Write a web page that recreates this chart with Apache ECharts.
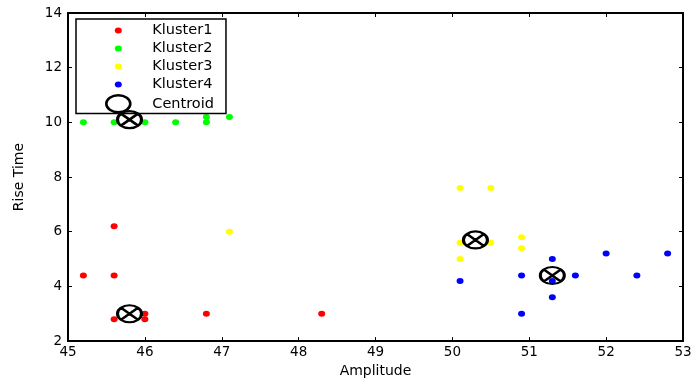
<!DOCTYPE html>
<html>
<head>
<meta charset="utf-8">
<script src="https://cdn.jsdelivr.net/npm/echarts@6/dist/echarts.min.js"></script>
<style>
  html, body { margin: 0; padding: 0; background: #fff; }
  #chart { width: 697px; height: 383px; }
</style>
</head>
<body>
<div id="chart"></div>
<script>
// values: [amplitude, rise time]
const kluster1 = [[45.2, 4.4], [45.6, 4.4], [45.6, 6.2], [45.6, 2.8], [46.0, 3.0], [46.0, 2.8], [46.8, 3.0], [48.3, 3.0]];
const kluster2 = [[45.2, 10], [45.6, 10], [46.0, 10], [46.4, 10], [46.8, 10], [46.8, 10.2], [47.1, 10.2]];
const kluster3 = [[47.1, 6.0], [50.1, 7.6], [50.5, 7.6], [50.1, 5.6], [50.5, 5.6], [50.1, 5.0], [50.9, 5.8], [50.9, 5.4]];
const kluster4 = [[50.1, 4.2], [50.9, 4.4], [51.3, 5.0], [51.3, 4.2], [51.3, 3.6], [50.9, 3.0], [51.6, 4.4], [52.0, 5.2], [52.4, 4.4], [52.8, 5.2]];
const centroids = [[45.8, 3.0], [45.8, 10.1], [50.3, 5.7], [51.3, 4.4]];
const seriesNames = ['Kluster1', 'Kluster2', 'Kluster3', 'Kluster4', 'Centroid'];
const seriesColors = ['#ff0000', '#00ff00', '#ffff00', '#0000ff'];

const font = 'DejaVu Sans';
// circle with a cross, stretched like the original figure
const centroidPath = 'path://M0,8.5A12,8.5 0 1,1 24,8.5A12,8.5 0 1,1 0,8.5Z M3.51,2.49L20.49,14.51M20.49,2.49L3.51,14.51';
const centroidLegend = 'path://M0,8.5A12,8.5 0 1,1 24,8.5A12,8.5 0 1,1 0,8.5Z';
// small dot inside a 24x17 box so legend rows keep the same size
const dotLegend = 'path://M0,0M24,17M8.5,8.5a3.5,3 0 1,0 7,0a3.5,3 0 1,0 -7,0Z';

const chart = echarts.init(document.getElementById('chart'), null, { renderer: 'canvas' });

const axisCommon = {
  axisLine: { show: true, lineStyle: { color: '#000', width: 2 } },
  axisTick: { show: true, inside: true, length: 4, lineStyle: { color: '#000' } },
  splitLine: { show: false },
};

const clusterData = [kluster1, kluster2, kluster3, kluster4];

const series = clusterData.map((d, i) => ({
  type: 'scatter',
  name: seriesNames[i],
  data: d,
  symbol: 'circle',
  symbolSize: [7, 6],
  itemStyle: { color: seriesColors[i], opacity: 1 },
  emphasis: { disabled: true },
}));
series.push({
  type: 'scatter',
  name: 'Centroid',
  data: centroids,
  symbol: centroidPath,
  symbolSize: [24, 17],
  z: 5,
  itemStyle: { color: 'transparent', borderColor: '#000', borderWidth: 2.6, opacity: 1 },
  emphasis: { disabled: true },
});

const option = {
  animation: false,
  backgroundColor: '#fff',
  grid: { left: 68, right: 14, top: 13, bottom: 37 },
  xAxis: [
    Object.assign({
      type: 'value', min: 45, max: 53, interval: 1, position: 'bottom',
      name: 'Amplitude', nameLocation: 'middle', nameGap: 19,
      nameTextStyle: { fontFamily: font, fontSize: 14, color: '#000' },
      axisLabel: { fontFamily: font, fontSize: 13.5, color: '#000', margin: 4 },
    }, axisCommon),
    Object.assign({
      type: 'value', min: 45, max: 53, interval: 1, position: 'top',
      axisLabel: { show: false },
    }, axisCommon),
  ],
  yAxis: [
    Object.assign({
      type: 'value', min: 2, max: 14, interval: 2, position: 'left',
      name: 'Rise Time', nameLocation: 'middle', nameGap: 42,
      nameTextStyle: { fontFamily: font, fontSize: 14, color: '#000' },
      axisLabel: { fontFamily: font, fontSize: 13.5, color: '#000', margin: 6 },
    }, axisCommon),
    Object.assign({
      type: 'value', min: 2, max: 14, interval: 2, position: 'right',
      axisLabel: { show: false },
    }, axisCommon),
  ],
  legend: {
    orient: 'vertical',
    left: 76,
    top: 19,
    width: 152,
    padding: [3, 12, 0, 29],
    itemGap: 1,
    itemWidth: 24,
    itemHeight: 17,
    backgroundColor: '#fff',
    borderColor: '#000',
    borderWidth: 1.5,
    borderRadius: 0,
    selectedMode: false,
    textStyle: { fontFamily: font, fontSize: 14.5, color: '#000', padding: [0, 0, 0, 17] },
    data: [
      { name: 'Kluster1', icon: dotLegend, itemStyle: { color: seriesColors[0], opacity: 1 } },
      { name: 'Kluster2', icon: dotLegend, itemStyle: { color: seriesColors[1], opacity: 1 } },
      { name: 'Kluster3', icon: dotLegend, itemStyle: { color: seriesColors[2], opacity: 1 } },
      { name: 'Kluster4', icon: dotLegend, itemStyle: { color: seriesColors[3], opacity: 1 } },
      { name: 'Centroid', icon: centroidLegend, itemStyle: { color: 'transparent', borderColor: '#000', borderWidth: 2.6, opacity: 1 } },
    ],
  },
  series,
};

chart.setOption(option);
</script>
</body>
</html>
